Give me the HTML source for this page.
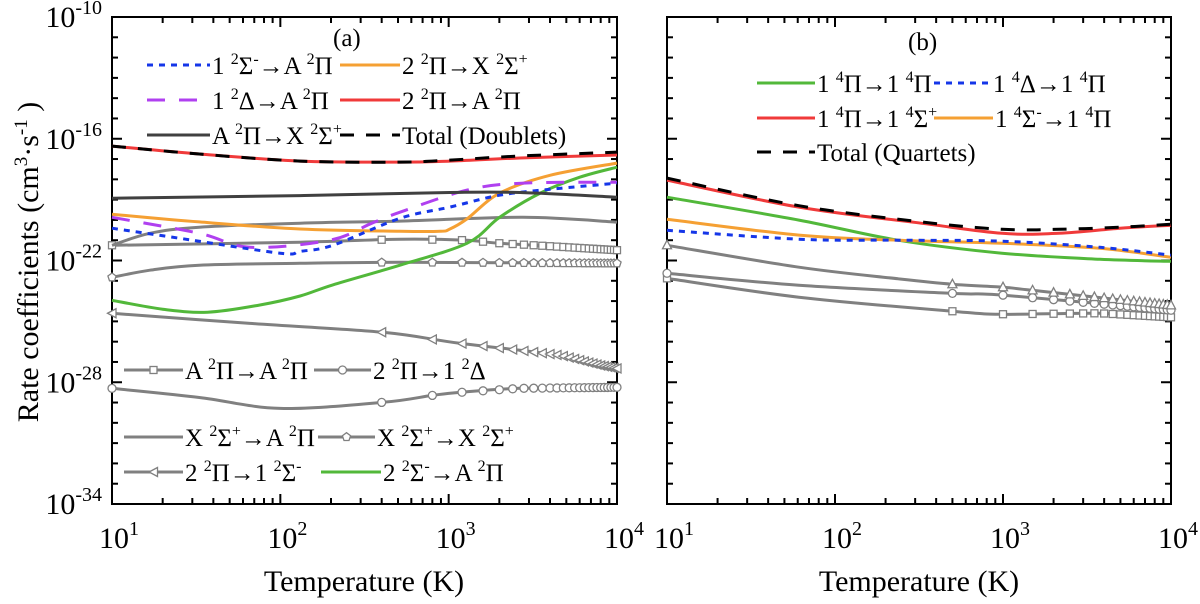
<!DOCTYPE html>
<html><head><meta charset="utf-8">
<style>
html,body{margin:0;padding:0;background:#fff;}
svg{display:block;font-family:"Liberation Serif",serif;}
</style></head>
<body>
<svg id="chart" width="1200" height="604" viewBox="0 0 1200 604" xmlns="http://www.w3.org/2000/svg">
<g id="plotA"></g>
<g id="plotB"></g>
<text transform="translate(38,262) rotate(-90)" text-anchor="middle" font-size="30">Rate coefficients (cm<tspan font-size="19" dy="-11">3</tspan><tspan dy="11">·s</tspan><tspan font-size="19" dy="-11">-1</tspan><tspan dy="11"> )</tspan></text>
<text x="364" y="591" text-anchor="middle" font-size="30">Temperature (K)</text>
<text x="919" y="591" text-anchor="middle" font-size="30">Temperature (K)</text>
<text x="333" y="46" font-size="25">(a)</text>
<text x="908" y="50" font-size="25">(b)</text>
</svg>
<script>
// ---- data (log10 of rate coefficient, temperature in K) ----
const aRedT=[10,33,131,514,1017,2652,10000];
const aRedK=[-16.36,-16.75,-17.1,-17.15,-17.1,-16.95,-16.8];
const aTotT=[10,33,131,514,1017,2652,10000];
const aTotK=[-16.36,-16.75,-17.1,-17.15,-17.05,-16.85,-16.66];
const aAXT=[10,131,1017,2652,10000];
const aAXK=[-18.93,-18.8,-18.65,-18.65,-18.88];
const aOrT=[10,33,131,514,889,1017,1285,2010,4000,10000];
const aOrK=[-19.72,-20.1,-20.45,-20.56,-20.56,-20.45,-19.95,-18.68,-17.8,-17.2];
const aGrT=[10,20,37,75,131,205,514,1285,2010,3500,6040,10000];
const aGrK=[-23.96,-24.4,-24.55,-24.2,-23.75,-23.2,-22.23,-21.15,-19.87,-18.68,-17.89,-17.4];
const aBlT=[10,25,100,131,205,514,1017,2010,4000,10000];
const aBlK=[-20.41,-20.9,-21.64,-21.55,-21.25,-19.92,-19.37,-18.78,-18.49,-18.19];
const aPuT=[10,33,66,197,350,514,1285,2700,10000];
const aPuK=[-19.87,-20.66,-21.35,-21.0,-20.16,-19.62,-18.53,-18.19,-18.14];
const aXAT=[10,16.8,33,131,514,2763,10000];
const aXAK=[-21.25,-20.66,-20.36,-20.16,-20.06,-19.87,-20.11];
const aSqT=[10,131,514,1285,2010,10000];
const aSqK=[-21.25,-21.1,-20.95,-21.0,-21.15,-21.49];
const aPeT=[10,16.8,33,131,514,10000];
const aPeK=[-22.83,-22.48,-22.23,-22.14,-22.09,-22.14];
const aTrT=[10,66,406,1163,4590,7950,10000];
const aTrK=[-24.6,-25.1,-25.54,-26.08,-26.67,-27.17,-27.32];
const aCiT=[10,33,100,406,797,1163,2650,10000];
const aCiK=[-28.3,-28.75,-29.29,-28.99,-28.65,-28.5,-28.3,-28.25];

const bRedT=[10,61,325,986,2153,4966,10000];
const bRedK=[-18.04,-19.37,-20.16,-20.66,-20.66,-20.41,-20.26];
const bTotT=[10,61,325,986,2153,4966,10000];
const bTotK=[-17.94,-19.3,-20.1,-20.46,-20.46,-20.36,-20.21];
const bGrT=[10,61,237,986,3776,10000];
const bGrK=[-18.88,-20.01,-21.0,-21.64,-21.94,-22.04];
const bOrT=[10,61,237,986,3776,10000];
const bOrK=[-19.97,-20.75,-21.0,-21.15,-21.4,-21.84];
const bBlT=[10,61,237,986,3776,10000];
const bBlK=[-20.51,-20.95,-21.0,-21.05,-21.35,-21.74];
const bTrT=[10,61,237,497,1012,1490,10000];
const bTrK=[-21.25,-22.33,-22.9,-23.17,-23.32,-23.47,-24.21];
const bCiT=[10,61,497,1012,10000];
const bCiK=[-22.63,-23.22,-23.62,-23.71,-24.45];
const bSqT=[10,61,497,1012,3776,10000];
const bSqK=[-22.88,-23.81,-24.5,-24.65,-24.6,-24.8];

const yTickExp=[-10,-16,-22,-28,-34];
const xTickExp=[1,2,3,4];

// ---- layout ----
const NS="http://www.w3.org/2000/svg";
const Y0=504, Y1=17; // 1e-34 .. 1e-10
function yS(k){return Y0-(k+34)/24*(Y0-Y1);}
function mkX(x0,x1){return t=>x0+(Math.log10(t)-1)/3*(x1-x0);}
function el(tag,attrs,parent){const e=document.createElementNS(NS,tag);for(const k in attrs)e.setAttribute(k,attrs[k]);parent.appendChild(e);return e;}

function smoothPath(pts){
  let d="M"+pts[0][0].toFixed(1)+","+pts[0][1].toFixed(1);
  for(let i=0;i<pts.length-1;i++){
    const p0=pts[i-1]||pts[i],p1=pts[i],p2=pts[i+1],p3=pts[i+2]||p2;
    const c1=[p1[0]+(p2[0]-p0[0])/6,p1[1]+(p2[1]-p0[1])/6];
    const c2=[p2[0]-(p3[0]-p1[0])/6,p2[1]-(p3[1]-p1[1])/6];
    d+=" C"+c1[0].toFixed(1)+","+c1[1].toFixed(1)+" "+c2[0].toFixed(1)+","+c2[1].toFixed(1)+" "+p2[0].toFixed(1)+","+p2[1].toFixed(1);
  }
  return d;
}
function interpK(T,K,t){
  const lt=Math.log10(t);
  for(let i=0;i<T.length-1;i++){const a=Math.log10(T[i]),b=Math.log10(T[i+1]);
    if(lt>=a&&lt<=b){return K[i]+(K[i+1]-K[i])*(lt-a)/(b-a);}}
  return K[K.length-1];
}
function marker(g,type,x,y){
  let m;
  if(type==="sq"){m=el("rect",{x:x-3.5,y:y-3.5,width:7,height:7,fill:"#fff",stroke:"#808080","stroke-width":1.3},g);}
  else if(type==="ci"){m=el("circle",{cx:x,cy:y,r:4,fill:"#fff",stroke:"#808080","stroke-width":1.3},g);}
  else if(type==="pe"){let p=[];for(let i=0;i<5;i++){const a=-Math.PI/2+i*2*Math.PI/5;p.push((x+4.3*Math.cos(a)).toFixed(1)+","+(y+4.3*Math.sin(a)).toFixed(1));}
    m=el("polygon",{points:p.join(" "),fill:"#fff",stroke:"#808080","stroke-width":1.3},g);}
  else if(type==="tl"){m=el("polygon",{points:(x-4.5)+","+y+" "+(x+4)+","+(y-4.5)+" "+(x+4)+","+(y+4.5),fill:"#fff",stroke:"#808080","stroke-width":1.3},g);}
  else if(type==="tu"){m=el("polygon",{points:x+","+(y-5)+" "+(x+4.5)+","+(y+3.5)+" "+(x-4.5)+","+(y+3.5),fill:"#fff",stroke:"#808080","stroke-width":1.3},g);}
  
  
}
function series(g,xS,T,K,style,name,mk,step){
  const pts=T.map((t,i)=>[xS(t),yS(K[i])]);
  const p=el("path",{d:smoothPath(pts),fill:"none",stroke:style.c,"stroke-width":style.w||3,"stroke-dasharray":style.dash||"none","stroke-linecap":style.cap||"butt"},g);
  
  
  if(mk){
    const ts=[10];for(let t=step;t<=10000;t+=step)ts.push(t);
    ts.forEach(t=>marker(g,mk,xS(t),yS(interpK(T,K,t))));
  }
}
function axes(g,x0,x1,labels){
  const xS=mkX(x0,x1);
  el("rect",{x:x0,y:Y1,width:x1-x0,height:Y0-Y1,fill:"none",stroke:"#000","stroke-width":2},g);
  for(let e=-34;e<=-10;e++){
    const y=yS(e),L=(e+34)%6===0?10:6;
    el("line",{x1:x0,y1:y,x2:x0+L,y2:y,stroke:"#000","stroke-width":2},g);
    el("line",{x1:x1,y1:y,x2:x1-L,y2:y,stroke:"#000","stroke-width":2},g);
  }
  for(let d=1;d<4;d++)for(let m=1;m<10;m++){
    const t=m*Math.pow(10,d),x=xS(t),L=m===1?10:6;
    el("line",{x1:x,y1:Y0,x2:x,y2:Y0-L,stroke:"#000","stroke-width":2},g);
    el("line",{x1:x,y1:Y1,x2:x,y2:Y1+L,stroke:"#000","stroke-width":2},g);
  }
  xTickExp.forEach(e=>{
    const t=el("text",{x:xS(Math.pow(10,e))+7,y:548,"text-anchor":"middle","font-size":30},g);
    
    
    t.innerHTML='10<tspan font-size="20" dy="-13">'+e+'</tspan>';
  });
  if(labels){
    yTickExp.forEach(e=>{
      const t=el("text",{x:102,y:yS(e)+10,"text-anchor":"end","font-size":30},g);
      
      
      t.innerHTML='10<tspan font-size="20" dy="-13">'+e+'</tspan>';
    });
  }
  return xS;
}
const C={blue:"#1536e8",purple:"#b040f0",orange:"#f5a033",red:"#f03a3a",green:"#52b83a",dk:"#404040",gr:"#808080",bk:"#000"};
const DB="6 6", DP="18 14", DK="14 12";
const gA=document.getElementById("plotA"),gB=document.getElementById("plotB");
const xa=axes(gA,112,617,true);
series(gA,xa,aCiT,aCiK,{c:C.gr},"series-2Pi-1Delta","ci",400);
series(gA,xa,aTrT,aTrK,{c:C.gr},"series-2Pi-1Sigma-minus","tl",400);
series(gA,xa,aPeT,aPeK,{c:C.gr},"series-X-X","pe",400);
series(gA,xa,aSqT,aSqK,{c:C.gr},"series-A-A","sq",400);
series(gA,xa,aXAT,aXAK,{c:C.gr},"series-X-A");
series(gA,xa,aGrT,aGrK,{c:C.green},"series-2Sigma-minus-A");
series(gA,xa,aOrT,aOrK,{c:C.orange},"series-2Pi-X");
series(gA,xa,aPuT,aPuK,{c:C.purple,dash:DP},"series-1Delta-A");
series(gA,xa,aBlT,aBlK,{c:C.blue,dash:DB},"series-1Sigma-minus-A");
series(gA,xa,aAXT,aAXK,{c:C.dk},"series-A-X");
series(gA,xa,aRedT,aRedK,{c:C.red},"series-2Pi-A");
series(gA,xa,aTotT,aTotK,{c:C.bk,dash:DK},"series-total-doublets");

const xb=axes(gB,667,1171,false);
series(gB,xb,bSqT,bSqK,{c:C.gr},"series-b-squares","sq",500);
series(gB,xb,bCiT,bCiK,{c:C.gr},"series-b-circles","ci",500);
series(gB,xb,bTrT,bTrK,{c:C.gr},"series-b-triangles","tu",500);
series(gB,xb,bGrT,bGrK,{c:C.green},"series-1-4Pi-1-4Pi");
series(gB,xb,bOrT,bOrK,{c:C.orange},"series-1-4Sigma-minus-1-4Pi");
series(gB,xb,bBlT,bBlK,{c:C.blue,dash:DB},"series-1-4Delta-1-4Pi");
series(gB,xb,bRedT,bRedK,{c:C.red},"series-1-4Pi-1-4Sigma-plus");
series(gB,xb,bTotT,bTotK,{c:C.bk,dash:DK},"series-total-quartets");

// ---- legends ----
function legend(g,x1,x2,y,style,label,mk){
  const l=el("line",{x1:x1,y1:y,x2:x2,y2:y,stroke:style.c,"stroke-width":3,"stroke-dasharray":style.dash||"none"},g);
  
  
  if(mk)marker(g,mk,(x1+x2)/2,y);
  const t=el("text",{x:x2+2,y:y+9,"font-size":25},g);
  
  
  t.innerHTML=label;
}
const S=(s)=>'<tspan font-size="16" dy="-10">'+s+'</tspan><tspan dy="10">';
const E='</tspan>';
legend(gA,147,210,65,{c:C.blue,dash:DB},'1 '+S('2')+'Σ'+E+S('-')+'→A '+E+S('2')+'Π'+E);
legend(gA,340,400,65,{c:C.orange},'2 '+S('2')+'Π→X '+E+S('2')+'Σ'+E+S('+')+E);
legend(gA,147,210,100,{c:C.purple,dash:DP},'1 '+S('2')+'Δ→A '+E+S('2')+'Π'+E);
legend(gA,340,400,100,{c:C.red},'2 '+S('2')+'Π→A '+E+S('2')+'Π'+E);
legend(gA,147,210,135,{c:C.dk},'A '+S('2')+'Π→X '+E+S('2')+'Σ'+E+S('+')+E);
legend(gA,340,400,135,{c:C.bk,dash:DK},'Total (Doublets)');
legend(gA,124,183,370,{c:C.gr},'A '+S('2')+'Π→A '+E+S('2')+'Π'+E,"sq");
legend(gA,314,371,370,{c:C.gr},'2 '+S('2')+'Π→1 '+E+S('2')+'Δ'+E,"ci");
legend(gA,124,183,437,{c:C.gr},'X '+S('2')+'Σ'+E+S('+')+'→A '+E+S('2')+'Π'+E);
legend(gA,318,375,437,{c:C.gr},'X '+S('2')+'Σ'+E+S('+')+'→X '+E+S('2')+'Σ'+E+S('+')+E,"pe");
legend(gA,124,183,472,{c:C.gr},'2 '+S('2')+'Π→1 '+E+S('2')+'Σ'+E+S('-')+E,"tl");
legend(gA,321,381,472,{c:C.green},'2 '+S('2')+'Σ'+E+S('-')+'→A '+E+S('2')+'Π'+E);
legend(gB,757,815,83,{c:C.green},'1 '+S('4')+'Π→1 '+E+S('4')+'Π'+E);
legend(gB,934,991,83,{c:C.blue,dash:DB},'1 '+S('4')+'Δ→1 '+E+S('4')+'Π'+E);
legend(gB,757,815,118,{c:C.red},'1 '+S('4')+'Π→1 '+E+S('4')+'Σ'+E+S('+')+E);
legend(gB,934,993,118,{c:C.orange},'1 '+S('4')+'Σ'+E+S('-')+'→1 '+E+S('4')+'Π'+E);
legend(gB,757,815,152,{c:C.bk,dash:DK},'Total (Quartets)');
</script>
</body></html>
